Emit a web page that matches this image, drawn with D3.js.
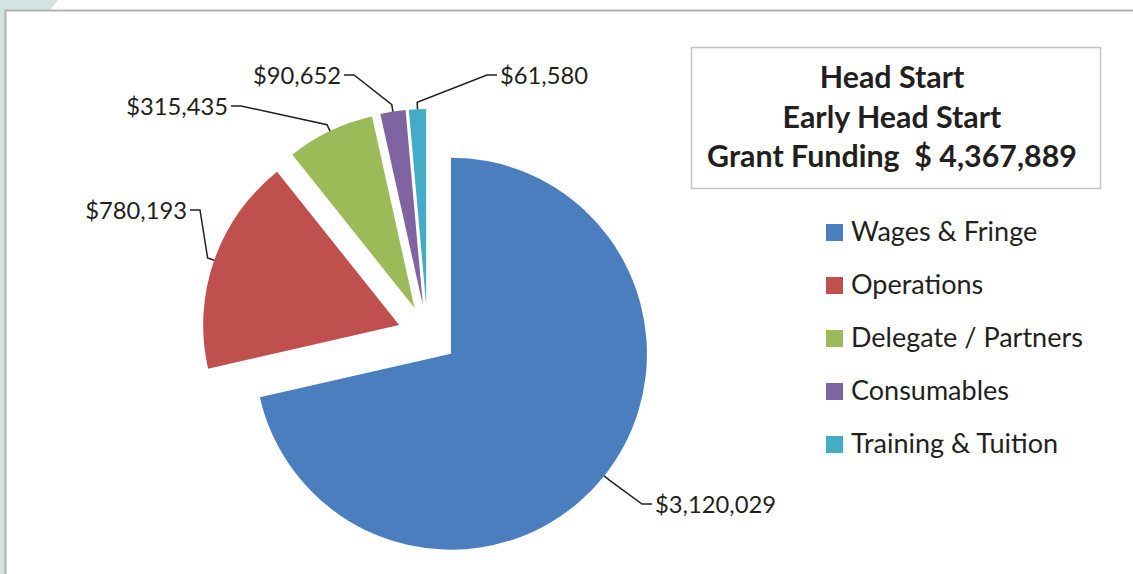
<!DOCTYPE html>
<html><head><meta charset="utf-8">
<script src="https://cdn.jsdelivr.net/npm/d3@7"></script>
<style>
html,body{margin:0;padding:0;background:#fff;}
svg{display:block;}
text{font-family:Lato,"Noto Sans",sans-serif;fill:#231f20;white-space:pre;}
</style></head>
<body><svg id="chart" width="1133" height="574"></svg>
<script>
// ---- data ----
const categories = ["Wages & Fringe","Operations","Delegate / Partners","Consumables","Training & Tuition"];
const values = [3120029, 780193, 315435, 90652, 61580];
const valueLabels = ["$3,120,029","$780,193","$315,435","$90,652","$61,580"];
const titleLines = ["Head Start","Early Head Start","Grant Funding  $ 4,367,889"];

// ---- style / layout ----
const colors = ["#4a7ebe","#c0504d","#9bbb59","#8064a2","#45acc8"];
const labelLayout = [ // text edge x, baseline y, anchor
  {x:655, y:513, a:"start"},
  {x:187, y:219, a:"end"},
  {x:228, y:115, a:"end"},
  {x:341, y:84,  a:"end"},
  {x:500, y:84,  a:"start"}
];

const svg = d3.select("#chart");
const W = 1133, H = 574;

// background frame
svg.append("rect").attr("x",0).attr("y",0).attr("width",W).attr("height",H).attr("fill","#fff");
svg.append("rect").attr("x",0).attr("y",0).attr("width",5).attr("height",H).attr("fill","#d5e2e2");
svg.append("polygon").attr("points","0,0 58,0 50,10 0,10").attr("fill","#d5e2e2");
svg.append("path").attr("d",`M5.5,${H} L5.5,10.5 L${W},10.5`).attr("fill","none")
   .attr("stroke","#b2b2b2").attr("stroke-width",2);

function fit(sel, target, startSize){
  sel.style("font-size", startSize+"px");
  const w = sel.node().getComputedTextLength();
  const s = startSize * target / w;
  sel.style("font-size", s+"px");
  return s;
}

// ---- pie ----
const cx = 427.5, cy = 335, R = 196, explode = 30;
const pie = d3.pie().sort(null).value(d=>d)(values);
const arc = d3.arc().innerRadius(0).outerRadius(R);
const g = svg.append("g").attr("transform",`translate(${cx},${cy})`);

function offs(d, k){ const m=(d.startAngle+d.endAngle)/2; return [k*Math.sin(m), -k*Math.cos(m)]; }

g.selectAll("path.slice").data(pie).join("path").attr("class","slice")
  .attr("transform", d=>{const o=offs(d,explode); return `translate(${o[0]},${o[1]})`;})
  .attr("d", arc).attr("fill",(d,i)=>colors[i]);

// leader lines + labels
const line = d3.line();
pie.forEach((d,i)=>{
  const o = offs(d, explode), e = offs(d, R), s = offs(d, R+7);
  const p0 = [cx+o[0]+e[0], cy+o[1]+e[1]];
  const p1 = [cx+o[0]+s[0], cy+o[1]+s[1]];
  const L = labelLayout[i];
  const dir = L.a==="start" ? -1 : 1;
  const ly = L.y - 9;
  const p2 = [L.x + dir*13, ly], p3 = [L.x + dir*3, ly];
  svg.append("path").attr("d", line([p0,p1,p2,p3])).attr("fill","none")
    .attr("stroke","#231f20").attr("stroke-width",1.5);
});
const labels = svg.selectAll("text.vl").data(valueLabels).join("text").attr("class","vl")
  .attr("x",(d,i)=>labelLayout[i].x).attr("y",(d,i)=>labelLayout[i].y)
  .attr("text-anchor",(d,i)=>labelLayout[i].a).text(d=>d);
const ls = fit(labels.filter((d,i)=>i===0), 121, 22);
labels.style("font-size", ls+"px");

// ---- title box ----
svg.append("rect").attr("x",691.5).attr("y",47.5).attr("width",409).attr("height",141)
  .attr("fill","#fff").attr("stroke","#c4c4c4").attr("stroke-width",1.5);
const tl = svg.selectAll("text.tt").data(titleLines).join("text").attr("class","tt")
  .attr("x",892).attr("y",(d,i)=>88+i*39.5).attr("text-anchor","middle")
  .style("font-weight","bold").text(d=>d);
const ts = fit(tl.filter((d,i)=>i===2), 370, 27);
tl.style("font-size", ts+"px");

// ---- legend ----
const lg = svg.selectAll("g.lg").data(categories).join("g").attr("class","lg")
  .attr("transform",(d,i)=>`translate(826,${241+i*53})`);
lg.append("rect").attr("x",0).attr("y",-17).attr("width",17).attr("height",17)
  .attr("fill",(d,i)=>colors[i]);
const lt = lg.append("text").attr("x",25).attr("y",0).text(d=>d);
const lgs = fit(lt.filter((d,i)=>i===2), 232, 24);
lt.style("font-size", lgs+"px");
</script></body></html>
